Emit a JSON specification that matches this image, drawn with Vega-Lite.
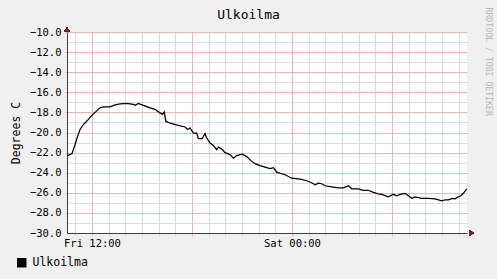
{
  "$schema": "https://vega.github.io/schema/vega-lite/v6.json",
  "width": 400,
  "height": 201,
  "autosize": "none",
  "padding": {"left": 67, "top": 32, "right": 30, "bottom": 46},
  "background": "#f0f0f0",
  "config": {
    "view": {"fill": "#ffffff", "stroke": null},
    "font": "DejaVu Sans Mono",
    "axis": {"labelFont": "DejaVu Sans Mono", "titleFont": "DejaVu Sans Mono", "labelColor": "#000000", "titleColor": "#000000"}
  },
  "title": {
    "text": "Ulkoilma",
    "anchor": "middle",
    "frame": "group",
    "dx": -18.5,
    "offset": -25,
    "baseline": "alphabetic",
    "font": "DejaVu Sans Mono",
    "fontSize": 13,
    "fontWeight": "normal",
    "color": "#000000"
  },
  "data": {
    "values": [
      {"time": "2010-01-15T10:32:00Z", "temp": -22.3},
      {"time": "2010-01-15T10:48:00Z", "temp": -22.1},
      {"time": "2010-01-15T10:59:00Z", "temp": -21.2},
      {"time": "2010-01-15T11:08:00Z", "temp": -20.4},
      {"time": "2010-01-15T11:17:00Z", "temp": -19.7},
      {"time": "2010-01-15T11:29:00Z", "temp": -19.2},
      {"time": "2010-01-15T11:44:00Z", "temp": -18.8},
      {"time": "2010-01-15T11:59:00Z", "temp": -18.3},
      {"time": "2010-01-15T12:11:00Z", "temp": -18.0},
      {"time": "2010-01-15T12:29:00Z", "temp": -17.55},
      {"time": "2010-01-15T12:41:00Z", "temp": -17.45},
      {"time": "2010-01-15T13:05:00Z", "temp": -17.45},
      {"time": "2010-01-15T13:23:00Z", "temp": -17.25},
      {"time": "2010-01-15T13:41:00Z", "temp": -17.15},
      {"time": "2010-01-15T14:05:00Z", "temp": -17.1},
      {"time": "2010-01-15T14:29:00Z", "temp": -17.2},
      {"time": "2010-01-15T14:35:00Z", "temp": -17.3},
      {"time": "2010-01-15T14:47:00Z", "temp": -17.1},
      {"time": "2010-01-15T15:05:00Z", "temp": -17.3},
      {"time": "2010-01-15T15:29:00Z", "temp": -17.55},
      {"time": "2010-01-15T15:47:00Z", "temp": -17.7},
      {"time": "2010-01-15T16:05:00Z", "temp": -18.05},
      {"time": "2010-01-15T16:14:00Z", "temp": -18.2},
      {"time": "2010-01-15T16:20:00Z", "temp": -17.95},
      {"time": "2010-01-15T16:26:00Z", "temp": -18.9},
      {"time": "2010-01-15T16:44:00Z", "temp": -19.1},
      {"time": "2010-01-15T17:11:00Z", "temp": -19.3},
      {"time": "2010-01-15T17:35:00Z", "temp": -19.45},
      {"time": "2010-01-15T17:44:00Z", "temp": -19.7},
      {"time": "2010-01-15T17:53:00Z", "temp": -19.55},
      {"time": "2010-01-15T18:05:00Z", "temp": -20.05},
      {"time": "2010-01-15T18:17:00Z", "temp": -20.05},
      {"time": "2010-01-15T18:23:00Z", "temp": -20.6},
      {"time": "2010-01-15T18:37:00Z", "temp": -20.6},
      {"time": "2010-01-15T18:47:00Z", "temp": -20.1},
      {"time": "2010-01-15T18:53:00Z", "temp": -20.55},
      {"time": "2010-01-15T19:05:00Z", "temp": -21.05},
      {"time": "2010-01-15T19:17:00Z", "temp": -21.3},
      {"time": "2010-01-15T19:29:00Z", "temp": -21.7},
      {"time": "2010-01-15T19:35:00Z", "temp": -21.45},
      {"time": "2010-01-15T19:47:00Z", "temp": -21.65},
      {"time": "2010-01-15T19:59:00Z", "temp": -22.0},
      {"time": "2010-01-15T20:17:00Z", "temp": -22.2},
      {"time": "2010-01-15T20:29:00Z", "temp": -22.55},
      {"time": "2010-01-15T20:41:00Z", "temp": -22.3},
      {"time": "2010-01-15T21:01:00Z", "temp": -22.15},
      {"time": "2010-01-15T21:17:00Z", "temp": -22.4},
      {"time": "2010-01-15T21:32:00Z", "temp": -22.8},
      {"time": "2010-01-15T21:47:00Z", "temp": -23.1},
      {"time": "2010-01-15T22:05:00Z", "temp": -23.3},
      {"time": "2010-01-15T22:23:00Z", "temp": -23.45},
      {"time": "2010-01-15T22:41:00Z", "temp": -23.6},
      {"time": "2010-01-15T22:53:00Z", "temp": -23.5},
      {"time": "2010-01-15T23:05:00Z", "temp": -23.95},
      {"time": "2010-01-15T23:35:00Z", "temp": -24.2},
      {"time": "2010-01-15T23:59:00Z", "temp": -24.55},
      {"time": "2010-01-16T00:29:00Z", "temp": -24.65},
      {"time": "2010-01-16T00:53:00Z", "temp": -24.8},
      {"time": "2010-01-16T01:11:00Z", "temp": -25.0},
      {"time": "2010-01-16T01:23:00Z", "temp": -25.2},
      {"time": "2010-01-16T01:35:00Z", "temp": -25.05},
      {"time": "2010-01-16T01:47:00Z", "temp": -25.1},
      {"time": "2010-01-16T01:59:00Z", "temp": -25.3},
      {"time": "2010-01-16T02:23:00Z", "temp": -25.4},
      {"time": "2010-01-16T02:47:00Z", "temp": -25.5},
      {"time": "2010-01-16T03:05:00Z", "temp": -25.5},
      {"time": "2010-01-16T03:23:00Z", "temp": -25.3},
      {"time": "2010-01-16T03:35:00Z", "temp": -25.6},
      {"time": "2010-01-16T03:59:00Z", "temp": -25.6},
      {"time": "2010-01-16T04:17:00Z", "temp": -25.75},
      {"time": "2010-01-16T04:35:00Z", "temp": -25.75},
      {"time": "2010-01-16T04:53:00Z", "temp": -25.95},
      {"time": "2010-01-16T05:11:00Z", "temp": -26.1},
      {"time": "2010-01-16T05:23:00Z", "temp": -26.15},
      {"time": "2010-01-16T05:47:00Z", "temp": -26.4},
      {"time": "2010-01-16T06:05:00Z", "temp": -26.15},
      {"time": "2010-01-16T06:17:00Z", "temp": -26.3},
      {"time": "2010-01-16T06:29:00Z", "temp": -26.15},
      {"time": "2010-01-16T06:47:00Z", "temp": -26.05},
      {"time": "2010-01-16T06:59:00Z", "temp": -26.3},
      {"time": "2010-01-16T07:11:00Z", "temp": -26.55},
      {"time": "2010-01-16T07:23:00Z", "temp": -26.4},
      {"time": "2010-01-16T07:47:00Z", "temp": -26.55},
      {"time": "2010-01-16T08:11:00Z", "temp": -26.55},
      {"time": "2010-01-16T08:35:00Z", "temp": -26.6},
      {"time": "2010-01-16T08:59:00Z", "temp": -26.8},
      {"time": "2010-01-16T09:11:00Z", "temp": -26.7},
      {"time": "2010-01-16T09:23:00Z", "temp": -26.7},
      {"time": "2010-01-16T09:37:00Z", "temp": -26.55},
      {"time": "2010-01-16T09:47:00Z", "temp": -26.6},
      {"time": "2010-01-16T09:59:00Z", "temp": -26.4},
      {"time": "2010-01-16T10:08:00Z", "temp": -26.3},
      {"time": "2010-01-16T10:17:00Z", "temp": -26.05},
      {"time": "2010-01-16T10:29:00Z", "temp": -25.6}
    ]
  },
  "layer": [
    {
      "mark": {"type": "line", "opacity": 0},
      "encoding": {
        "x": {"field": "time", "type": "temporal",
          "scale": {"type": "utc", "domain": [{"year": 2010, "month": 1, "date": 15, "hours": 10, "minutes": 30, "utc": true}, {"year": 2010, "month": 1, "date": 16, "hours": 10, "minutes": 30, "utc": true}]},
          "axis": {"orient": "bottom",
            "values": [
              {"year": 2010, "month": 1, "date": 15, "hours": 11, "utc": true},
              {"year": 2010, "month": 1, "date": 15, "hours": 13, "utc": true},
              {"year": 2010, "month": 1, "date": 15, "hours": 14, "utc": true},
              {"year": 2010, "month": 1, "date": 15, "hours": 15, "utc": true},
              {"year": 2010, "month": 1, "date": 15, "hours": 16, "utc": true},
              {"year": 2010, "month": 1, "date": 15, "hours": 17, "utc": true},
              {"year": 2010, "month": 1, "date": 15, "hours": 19, "utc": true},
              {"year": 2010, "month": 1, "date": 15, "hours": 20, "utc": true},
              {"year": 2010, "month": 1, "date": 15, "hours": 21, "utc": true},
              {"year": 2010, "month": 1, "date": 15, "hours": 22, "utc": true},
              {"year": 2010, "month": 1, "date": 15, "hours": 23, "utc": true},
              {"year": 2010, "month": 1, "date": 16, "hours": 1, "utc": true},
              {"year": 2010, "month": 1, "date": 16, "hours": 2, "utc": true},
              {"year": 2010, "month": 1, "date": 16, "hours": 3, "utc": true},
              {"year": 2010, "month": 1, "date": 16, "hours": 4, "utc": true},
              {"year": 2010, "month": 1, "date": 16, "hours": 5, "utc": true},
              {"year": 2010, "month": 1, "date": 16, "hours": 7, "utc": true},
              {"year": 2010, "month": 1, "date": 16, "hours": 8, "utc": true},
              {"year": 2010, "month": 1, "date": 16, "hours": 9, "utc": true},
              {"year": 2010, "month": 1, "date": 16, "hours": 10, "utc": true}
            ],
            "grid": true, "gridColor": "#dadada", "gridWidth": 1, "ticks": true, "tickColor": "#dadada", "tickSize": 3, "labels": false, "domain": false, "title": null}},
        "y": {"field": "temp", "type": "quantitative",
          "scale": {"domain": [-30, -10], "nice": false, "zero": false},
          "axis": {"orient": "left", "values": [-29, -27, -25, -23, -21, -19, -17, -15, -13, -11], "grid": true, "gridColor": "#dadada", "gridWidth": 1, "ticks": false, "labels": false, "domain": false, "title": null}}
      }
    },
    {
      "mark": {"type": "line", "opacity": 0},
      "encoding": {
        "x": {"field": "time", "type": "temporal",
          "axis": {"orient": "bottom",
            "values": [
              {"year": 2010, "month": 1, "date": 15, "hours": 12, "utc": true},
              {"year": 2010, "month": 1, "date": 15, "hours": 18, "utc": true},
              {"year": 2010, "month": 1, "date": 16, "hours": 0, "utc": true},
              {"year": 2010, "month": 1, "date": 16, "hours": 6, "utc": true}
            ],
            "grid": true, "gridColor": "#f0b2b2", "gridWidth": 1, "ticks": true, "tickColor": "#f0b2b2", "tickSize": 3, "labels": false, "domain": false, "title": null}},
        "y": {"field": "temp", "type": "quantitative",
          "axis": {"orient": "left", "values": [-28, -26, -24, -22, -20, -18, -16, -14, -12, -10], "grid": true, "gridColor": "#f0b2b2", "gridWidth": 1, "ticks": true, "tickColor": "#f0b2b2", "tickSize": 2, "labels": false, "domain": false, "title": null}}
      }
    },
    {
      "mark": {"type": "line", "strokeWidth": 1.25},
      "encoding": {
        "x": {"field": "time", "type": "temporal",
          "axis": {"orient": "bottom",
            "values": [
              {"year": 2010, "month": 1, "date": 15, "hours": 12, "utc": true},
              {"year": 2010, "month": 1, "date": 16, "hours": 0, "utc": true}
            ],
            "format": "%a %H:%M", "grid": false, "ticks": false, "labelPadding": 5, "labelFontSize": 10.5, "domain": true, "domainColor": "#404040", "domainWidth": 1, "title": null}},
        "y": {"field": "temp", "type": "quantitative",
          "axis": {"orient": "left", "values": [-30, -28, -26, -24, -22, -20, -18, -16, -14, -12, -10], "format": ".1f", "grid": false, "ticks": false, "labelPadding": 6, "labelFontSize": 10.5, "domain": true, "domainColor": "#404040", "domainWidth": 1,
            "title": "Degrees C", "titleFontSize": 11.5, "titleFontWeight": "normal", "titleAngle": 270, "titleX": -48, "titleY": 100.5, "titleAlign": "center", "titleBaseline": "alphabetic"}},
        "color": {"datum": "Ulkoilma", "type": "nominal", "scale": {"range": ["#000000"]},
          "legend": {"orient": "none", "legendX": -51, "legendY": 225, "title": null, "symbolType": "square", "symbolSize": 64, "symbolFillColor": "#000000", "symbolStrokeColor": "#000000", "labelFont": "DejaVu Sans Mono", "labelFontSize": 11.5, "labelColor": "#000000", "labelOffset": 5, "padding": 0}}
      }
    },
    {
      "mark": {"type": "line", "opacity": 0},
      "encoding": {
        "x": {"field": "time", "type": "temporal", "axis": null},
        "y": {"field": "temp", "type": "quantitative",
          "axis": {"orient": "right", "grid": false, "ticks": false, "labels": false, "domain": false,
            "title": "RRDTOOL / TOBI OETIKER", "titleFontSize": 8.2, "titleFontWeight": "normal", "titleColor": "#b8b8b8", "titleAngle": 90, "titleX": 18, "titleY": -25, "titleAlign": "left", "titleBaseline": "alphabetic"}}
      }
    },
    {
      "mark": {"type": "point", "shape": "triangle-up", "filled": true, "color": "#7f1f1f", "size": 30, "yOffset": -2.5, "opacity": 1},
      "encoding": {
        "x": {"datum": {"year": 2010, "month": 1, "date": 15, "hours": 10, "minutes": 30, "utc": true}, "type": "temporal", "axis": null},
        "y": {"datum": -10, "type": "quantitative", "axis": null}
      }
    },
    {
      "mark": {"type": "point", "shape": "triangle-right", "filled": true, "color": "#7f1f1f", "size": 30, "xOffset": 4.5, "opacity": 1},
      "encoding": {
        "x": {"datum": {"year": 2010, "month": 1, "date": 16, "hours": 10, "minutes": 30, "utc": true}, "type": "temporal", "axis": null},
        "y": {"datum": -30, "type": "quantitative", "axis": null}
      }
    }
  ],
  "resolve": {"axis": {"x": "independent", "y": "independent"}}
}
